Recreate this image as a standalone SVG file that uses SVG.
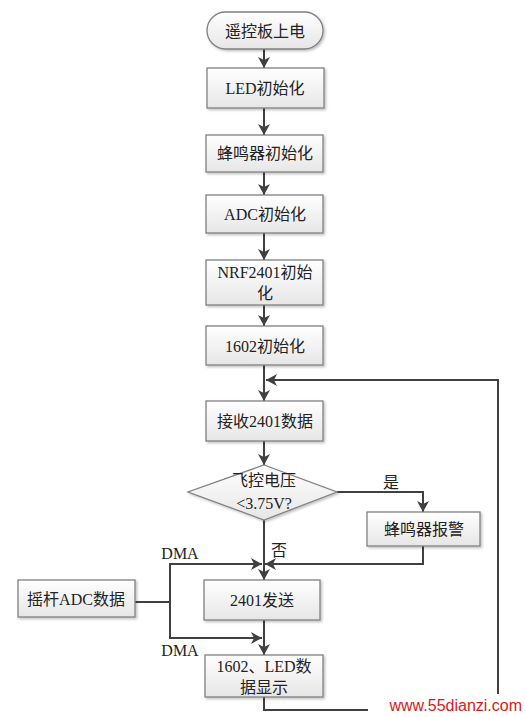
<svg xmlns="http://www.w3.org/2000/svg" width="526" height="717" viewBox="0 0 526 717">
<defs>
<linearGradient id="g" x1="0" y1="0" x2="0" y2="1">
<stop offset="0" stop-color="#ffffff"/>
<stop offset="1" stop-color="#e6e6e6"/>
</linearGradient>
<marker id="a" markerWidth="12" markerHeight="12" refX="11" refY="6" orient="auto" markerUnits="userSpaceOnUse">
<path d="M0,0 L11,6 L0,12 L3,6 Z" fill="#404040"/>
</marker>
<filter id="s" x="-10%" y="-10%" width="130%" height="140%">
<feDropShadow dx="1.5" dy="1.5" stdDeviation="1" flood-color="#000" flood-opacity="0.25"/>
</filter>
</defs>
<style>
.b{fill:url(#g);stroke:#808080;stroke-width:1.3;filter:url(#s)}
.t{font-family:"Liberation Serif","Noto Sans CJK SC",serif;font-size:16px;fill:#222;text-anchor:middle;dominant-baseline:central}
.l{fill:none;stroke:#404040;stroke-width:2}
.ar{marker-end:url(#a)}
</style>
<rect width="526" height="717" fill="#fff"/>
<g id="edges">
<line class="l ar" x1="264" y1="49" x2="264" y2="68"/>
<line class="l ar" x1="264" y1="108" x2="264" y2="135"/>
<line class="l ar" x1="264" y1="172" x2="264" y2="195"/>
<line class="l ar" x1="264" y1="233" x2="264" y2="260"/>
<line class="l ar" x1="264" y1="305" x2="264" y2="326"/>
<line class="l ar" x1="264" y1="365" x2="264" y2="401"/>
<line class="l ar" x1="264" y1="441" x2="264" y2="465"/>
<polyline class="l ar" points="337,492 423,492 423,512"/>
<line class="l ar" x1="264" y1="520" x2="264" y2="580"/>
<polyline class="l ar" points="423,546 423,564 265,564"/>
<polyline class="l ar" points="135,602 170,602 170,564 262,564"/>
<polyline class="l ar" points="170,602 170,638 262,638"/>
<line class="l ar" x1="264" y1="620" x2="264" y2="655"/>
<polyline class="l ar" points="264,697 264,710 498,710 498,380 266,380"/>
<text class="t" x="391" y="482">是</text>
<text class="t" x="279" y="550">否</text>
<text class="t" x="180" y="553">DMA</text>
<text class="t" x="180" y="650">DMA</text>
</g>
<g id="start">
<rect class="b" x="207" y="12" width="116" height="37" rx="18.5"/>
<text class="t" x="265" y="31">遥控板上电</text>
</g>
<g id="led">
<rect class="b" x="207" y="68" width="117" height="40"/>
<text class="t" x="265" y="88">LED初始化</text>
</g>
<g id="buzzer-init">
<rect class="b" x="206" y="135" width="117" height="37"/>
<text class="t" x="265" y="153">蜂鸣器初始化</text>
</g>
<g id="adc">
<rect class="b" x="206" y="195" width="117" height="38"/>
<text class="t" x="265" y="214">ADC初始化</text>
</g>
<g id="nrf">
<rect class="b" x="206" y="260" width="117" height="45"/>
<text class="t" x="265" y="272">NRF2401初始</text>
<text class="t" x="265" y="293">化</text>
</g>
<g id="lcd">
<rect class="b" x="206" y="326" width="117" height="39"/>
<text class="t" x="265" y="346">1602初始化</text>
</g>
<g id="recv">
<rect class="b" x="206" y="401" width="117" height="40"/>
<text class="t" x="265" y="421">接收2401数据</text>
</g>
<g id="check">
<polygon class="b" points="264,465 337,492 264,520 188,492"/>
<text class="t" x="264" y="480">飞控电压</text>
<text class="t" x="264" y="503">&lt;3.75V?</text>
</g>
<g id="alarm">
<rect class="b" x="367" y="512" width="113" height="34"/>
<text class="t" x="424" y="529">蜂鸣器报警</text>
</g>
<g id="send">
<rect class="b" x="204" y="580" width="116" height="40"/>
<text class="t" x="262" y="600">2401发送</text>
</g>
<g id="joystick">
<rect class="b" x="18" y="580" width="117" height="37"/>
<text class="t" x="76" y="599">摇杆ADC数据</text>
</g>
<g id="display">
<rect class="b" x="205" y="655" width="118" height="42"/>
<text class="t" x="264" y="666">1602、LED数</text>
<text class="t" x="264" y="687">据显示</text>
</g>
<g id="watermark">
<rect x="368" y="694" width="158" height="23" fill="#fff"/>
<text x="522" y="711" font-family="Liberation Sans,Arial,sans-serif" font-size="16" fill="#d42020" text-anchor="end">www.55dianzi.com</text>
</g>
</svg>
